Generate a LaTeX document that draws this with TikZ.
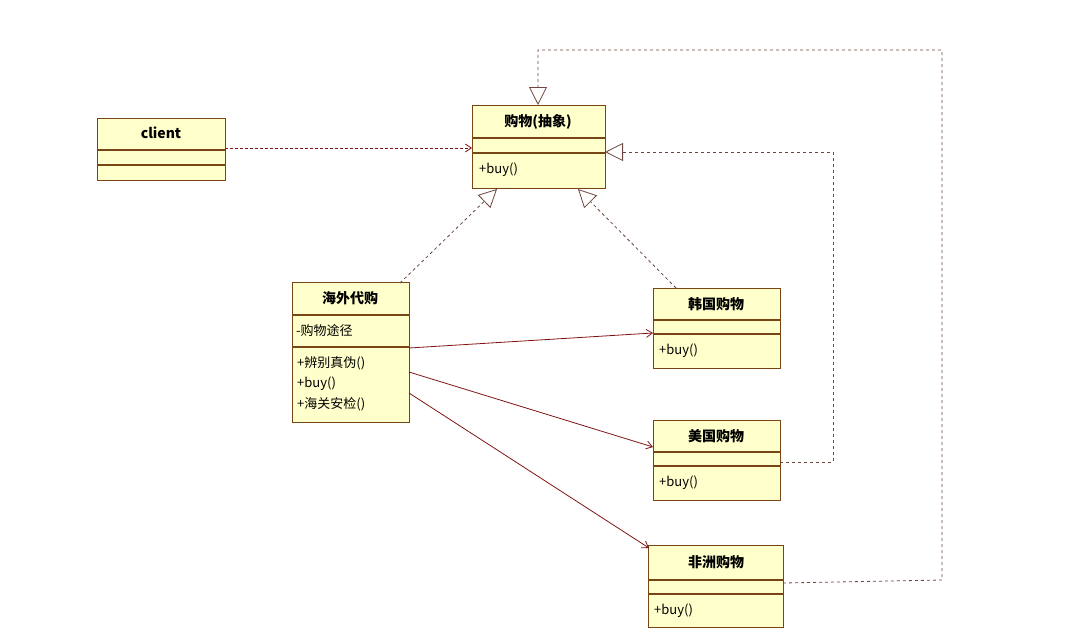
\documentclass[tikz,border=0pt]{standalone}
\usepackage{fontspec}
\setmainfont{Noto Sans CJK SC}
\usetikzlibrary{arrows.meta}
\definecolor{umlfill}{RGB}{255,255,204}
\definecolor{umlline}{RGB}{120,70,20}
\definecolor{assoc}{RGB}{128,20,20}
\definecolor{realc}{RGB}{110,70,60}
\begin{document}
\begin{tikzpicture}[x=1pt,y=-1pt,
  cls/.style={draw=umlline,fill=umlfill,line width=1.2pt,anchor=north west,inner sep=0pt},
  ttl/.style={font=\bfseries\fontsize{14}{16}\selectfont},
  mem/.style={font=\fontsize{13}{15}\selectfont,anchor=west,inner sep=0pt},
  real/.style={dashed,draw=realc,line width=0.8pt,-{Triangle[open,length=18pt,width=18pt,fill=white]}},
  dep/.style={densely dashed,draw=assoc,line width=0.8pt,-{Straight Barb[length=6pt,width=8pt]}},
  asc/.style={draw=assoc,line width=0.8pt,-{Straight Barb[length=6pt,width=8pt]}}]
\useasboundingbox (0,0) rectangle (1065,640);
% client
\node[cls,minimum width=128pt,minimum height=62pt] (cl) at (97,118) {};
\node[ttl] (clt) at (161,133) {client};
\draw[umlline,line width=1.2pt] (97,150) -- (225,150) (97,165) -- (225,165);
% abstract
\node[cls,minimum width=133pt,minimum height=83pt] (ab) at (472,105) {};
\node[ttl] (abt) at (538,122) {购物(抽象)};
\draw[umlline,line width=1.2pt] (472,138) -- (605,138) (472,153) -- (605,153);
\node[mem] (abm) at (479,170) {+buy()};
% haiwai
\node[cls,minimum width=117pt,minimum height=140pt] (hw) at (292,282) {};
\node[ttl] (hwt) at (350,298) {海外代购};
\draw[umlline,line width=1.2pt] (292,315) -- (409,315) (292,347) -- (409,347);
\node[mem] (hwa) at (296,331) {-购物途径};
\node[mem] (hwm1) at (297,363) {+辨别真伪()};
\node[mem] (hwm2) at (297,384) {+buy()};
\node[mem] (hwm3) at (297,404) {+海关安检()};
% korea
\node[cls,minimum width=127pt,minimum height=80pt] (kr) at (653,288) {};
\node[ttl] (krt) at (716,304) {韩国购物};
\draw[umlline,line width=1.2pt] (653,320) -- (780,320) (653,334) -- (780,334);
\node[mem] (krm) at (659,351) {+buy()};
% usa
\node[cls,minimum width=127pt,minimum height=80pt] (us) at (653,420) {};
\node[ttl] (ust) at (716,436) {美国购物};
\draw[umlline,line width=1.2pt] (653,452) -- (780,452) (653,466) -- (780,466);
\node[mem] (usm) at (659,483) {+buy()};
% africa
\node[cls,minimum width=135pt,minimum height=82pt] (af) at (648,545) {};
\node[ttl] (aft) at (716,562) {非洲购物};
\draw[umlline,line width=1.2pt] (648,580) -- (783,580) (648,594) -- (783,594);
\node[mem] (afm) at (654,611) {+buy()};
% connectors
\coordinate (c1) at (225,148); \coordinate (a1) at (472,148);
\draw[dep] (c1) -- (a1);
\coordinate (h0) at (400,283); \coordinate (ah) at (497,189);
\draw[real] (h0) -- (ah);
\coordinate (k0) at (676,288); \coordinate (ak) at (578,189);
\draw[real] (k0) -- (ak);
\coordinate (u0) at (780,462); \coordinate (u1) at (833,462); \coordinate (u2) at (833,152); \coordinate (au) at (605,152);
\draw[real] (u0) -- (u1) -- (u2) -- (au);
\coordinate (f0) at (783,583); \coordinate (f1) at (942,580); \coordinate (f2) at (942,50); \coordinate (f3) at (538,50); \coordinate (af2) at (538,105);
\draw[real] (f0) -- (f1) -- (f2) -- (f3) -- (af2);
\coordinate (s1) at (409,348); \coordinate (e1) at (653,333);
\draw[asc] (s1) -- (e1);
\coordinate (s2) at (409,372); \coordinate (e2) at (653,447);
\draw[asc] (s2) -- (e2);
\coordinate (s3) at (409,393); \coordinate (e3) at (649,548);
\draw[asc] (s3) -- (e3);
\end{tikzpicture}
\end{document}
